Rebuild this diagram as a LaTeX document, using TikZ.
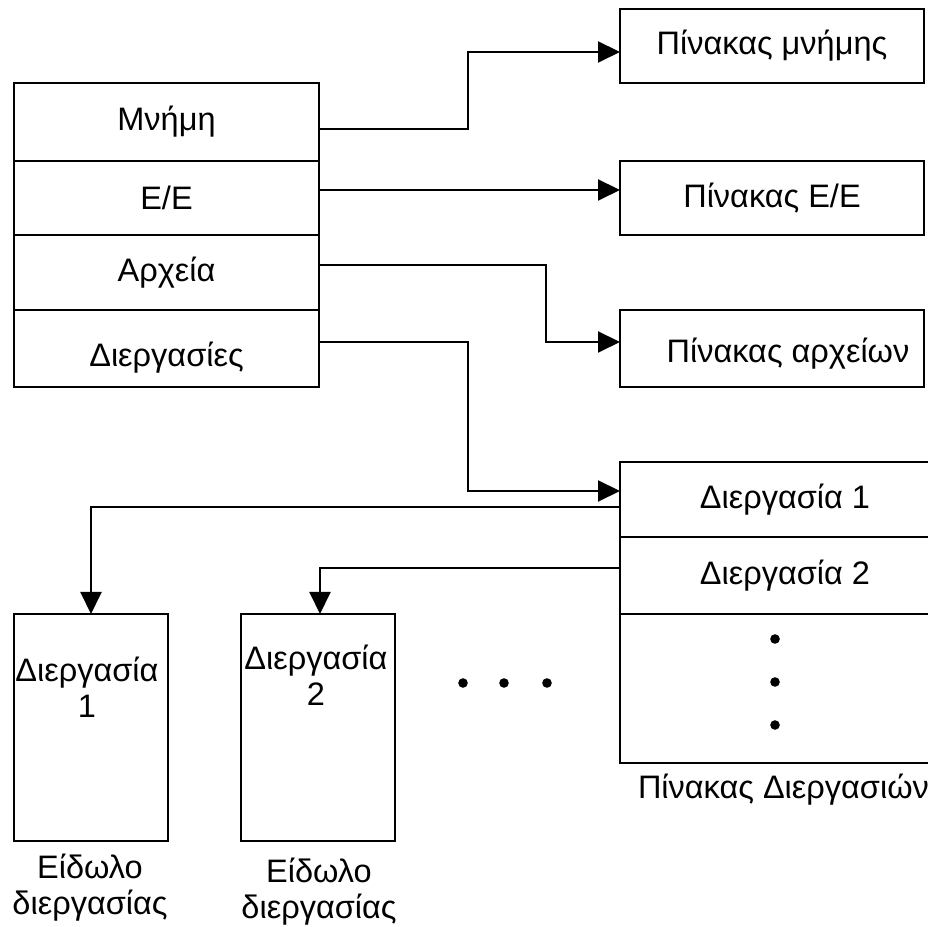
\documentclass[tikz,border=0pt]{standalone}
\usepackage{fontspec}
\setmainfont{Liberation Sans}
\usetikzlibrary{arrows.meta,positioning}

\begin{document}
\begin{tikzpicture}[
    x=1pt, y=1pt,
    font=\fontsize{32.5}{36}\selectfont,
    line width=2pt,
    every node/.style={outer sep=0pt},
    cell/.style={draw, minimum width=305pt, inner sep=0pt},
    tbox/.style={draw, minimum width=304pt, minimum height=75pt, inner sep=0pt},
    prow/.style={draw, minimum width=330pt, inner sep=0pt},
    imgbox/.style={draw, minimum width=154pt, minimum height=227pt, inner sep=0pt},
    txt/.style={align=center, inner sep=0pt},
    conn/.style={-{Triangle[length=22pt,width=21pt]}}
]
\useasboundingbox (0,0) rectangle (928,926);

% left table
\node[cell, minimum height=78pt] (mem) at (166.5,804) {Μνήμη};
\node[cell, minimum height=74pt, below=0pt of mem] (io) {Ε/Ε};
\node[cell, minimum height=75pt, below=0pt of io] (files) {Αρχεία};
\node[cell, minimum height=77pt, below=0pt of files] (procs) {};
\node[txt] (procstxt) at ([yshift=-9pt]procs.center) {Διεργασίες};

% right tables
\node[tbox, minimum height=74pt] (pmem) at (772,880) {Πίνακας μνήμης};
\node[tbox, minimum height=74pt] (pio) at (772,728) {Πίνακας Ε/Ε};
\node[tbox, minimum height=77pt] (pfiles) at (772,577.5) {};
\node[txt] (pfilestxt) at ([xshift=16pt,yshift=-5pt]pfiles.center) {Πίνακας αρχείων};

% process table
\node[prow, minimum height=75pt, anchor=west] (pr1) at (620,426.5) {Διεργασία 1};
\node[prow, minimum height=77pt, below=0pt of pr1] (pr2) {Διεργασία 2};
\node[prow, minimum height=149pt, below=0pt of pr2] (pr3) {};
\node[txt, anchor=west] (ptlabel) at (638,136) {Πίνακας Διεργασιών};

% process images
\node[imgbox] (img1) at (91,198.5) {};
\node[imgbox] (img2) at (317.5,198.5) {};
\node[txt] (img1txt) at (87,238.5) {Διεργασία\\1};
\node[txt] (img2txt) at (316,251) {Διεργασία\\2};
\node[txt] (img1lbl) at (90,38.5) {Είδωλο\\διεργασίας};
\node[txt] (img2lbl) at (319,34.5) {Είδωλο\\διεργασίας};

% dots
\fill (463,243) circle (4.8pt);
\fill (504,243) circle (4.8pt);
\fill (547,243) circle (4.8pt);
\fill (775,287) circle (4.8pt);
\fill (775,244) circle (4.8pt);
\fill (775,201) circle (4.8pt);

% connectors
\draw[conn] ([yshift=-7pt]mem.east) -- ++(149,0) |- ([yshift=-6pt]pmem.west);
\draw[conn] ([yshift=8pt]io.east) -- ([yshift=8pt]pio.west);
\draw[conn] ([yshift=7.5pt]files.east) -- ++(227,0) |- ([yshift=6.5pt]pfiles.west);
\draw[conn] ([yshift=6.5pt]procs.east) -- ++(149,0) |- ([yshift=8.5pt]pr1.west);
\draw[conn] ([yshift=-7.5pt]pr1.west) -| (img1.north);
\draw[conn] ([yshift=7.5pt]pr2.west) -| ([xshift=2.5pt]img2.north);

\end{tikzpicture}
\end{document}
